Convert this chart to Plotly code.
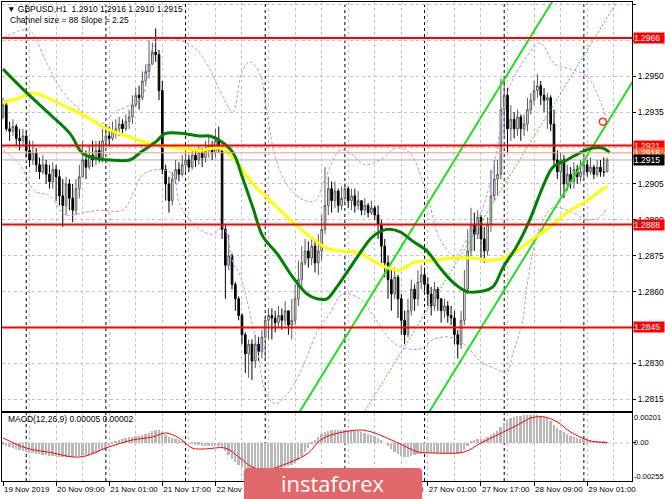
import plotly.graph_objects as go

# ---------------- DATA ----------------
symbol = "GBPUSD,H1"
first_open = 1.2933
closes = [
 1.2938,1.2928,1.2927,1.2929,1.2924,1.2923,1.2925,1.2919,1.2915,1.2918,
 1.2913,1.2910,1.2913,1.2909,1.2906,1.2911,1.2908,1.2900,1.2896,1.2905,
 1.2899,1.2894,1.2903,1.2908,1.2915,1.2912,1.2917,1.2915,1.2919,1.2916,
 1.2923,1.2925,1.2924,1.2927,1.2928,1.2930,1.2928,1.2931,1.2933,1.2938,
 1.2942,1.2941,1.2948,1.2952,1.2955,1.2960,1.2959,1.2944,1.2911,1.2905,
 1.2898,1.2907,1.2911,1.2909,1.2913,1.2915,1.2912,1.2917,1.2915,1.2918,
 1.2916,1.2919,1.2921,1.2918,1.2923,1.2920,1.2886,1.2871,1.2875,1.2863,
 1.2857,1.2850,1.2842,1.2834,1.2838,1.2831,1.2838,1.2835,1.2841,1.2848,
 1.2850,1.2849,1.2847,1.2850,1.2848,1.2852,1.2846,1.2848,1.2857,1.2865,
 1.2872,1.2877,1.2874,1.2879,1.2872,1.2877,1.2886,1.2896,1.2903,1.2898,
 1.2902,1.2896,1.2899,1.2903,1.2898,1.2900,1.2896,1.2898,1.2894,1.2896,
 1.2893,1.2895,1.2892,1.2888,1.2879,1.2872,1.2865,1.2859,1.2866,1.2857,
 1.2848,1.2842,1.2852,1.2861,1.2857,1.2864,1.2867,1.2863,1.2859,1.2854,
 1.2861,1.2857,1.2852,1.2854,1.2850,1.2849,1.2842,1.2838,1.2848,1.2861,
 1.2877,1.2888,1.2884,1.2891,1.2882,1.2877,1.2888,1.2900,1.2907,1.2909,
 1.2936,1.2942,1.2928,1.2932,1.2928,1.2933,1.2928,1.2930,1.2936,1.2940,
 1.2944,1.2946,1.2942,1.2940,1.2941,1.2930,1.2915,1.2910,1.2915,1.2905,
 1.2909,1.2906,1.2911,1.2908,1.2910,1.2913,1.2910,1.2912,1.2909,1.2912,
 1.2910,1.2910,1.2915]
highs = [
 1.2941,1.2940,1.2931,1.2932,1.2930,1.2928,1.2928,1.2927,1.2923,1.2923,
 1.2920,1.2916,1.2917,1.2915,1.2913,1.2914,1.2913,1.2911,1.2907,1.2908,
 1.2907,1.2905,1.2907,1.2913,1.2923,1.2919,1.2921,1.2923,1.2923,1.2923,
 1.2928,1.2930,1.2929,1.2931,1.2932,1.2933,1.2932,1.2934,1.2936,1.2942,
 1.2945,1.2946,1.2952,1.2955,1.2965,1.2964,1.2970,1.2961,1.2948,1.2913,
 1.2908,1.2910,1.2915,1.2914,1.2917,1.2919,1.2917,1.2920,1.2919,1.2921,
 1.2920,1.2923,1.2925,1.2923,1.2928,1.2929,1.2921,1.2888,1.2884,1.2876,
 1.2864,1.2858,1.2851,1.2843,1.2840,1.2840,1.2842,1.2841,1.2844,1.2850,
 1.2853,1.2853,1.2852,1.2854,1.2853,1.2856,1.2852,1.2857,1.2863,1.2873,
 1.2879,1.2882,1.2881,1.2882,1.2882,1.2884,1.2892,1.2912,1.2908,1.2906,
 1.2906,1.2903,1.2904,1.2905,1.2904,1.2903,1.2903,1.2902,1.2898,1.2899,
 1.2897,1.2898,1.2896,1.2896,1.2890,1.2882,1.2875,1.2869,1.2870,1.2867,
 1.2859,1.2852,1.2857,1.2865,1.2863,1.2869,1.2871,1.2870,1.2866,1.2862,
 1.2864,1.2862,1.2857,1.2857,1.2856,1.2854,1.2852,1.2844,1.2852,1.2869,
 1.2886,1.2895,1.2893,1.2894,1.2892,1.2887,1.2891,1.2911,1.2915,1.2915,
 1.2949,1.2948,1.2945,1.2938,1.2935,1.2936,1.2934,1.2934,1.2941,1.2943,
 1.2948,1.2951,1.2948,1.2945,1.2943,1.2942,1.2936,1.2919,1.2918,1.2917,
 1.2913,1.2912,1.2914,1.2913,1.2915,1.2916,1.2915,1.2916,1.2913,1.2915,
 1.2915,1.2916,1.2916]
lows = [
 1.2932,1.2927,1.2923,1.2925,1.2921,1.2919,1.2921,1.2916,1.2912,1.2913,
 1.2910,1.2907,1.2909,1.2905,1.2903,1.2903,1.2898,1.2896,1.2887,1.2892,
 1.2894,1.2889,1.2892,1.2899,1.2908,1.2907,1.2911,1.2912,1.2913,1.2914,
 1.2914,1.2921,1.2921,1.2923,1.2924,1.2925,1.2925,1.2927,1.2928,1.2930,
 1.2937,1.2936,1.2940,1.2946,1.2949,1.2955,1.2956,1.2940,1.2909,1.2898,
 1.2893,1.2896,1.2905,1.2906,1.2908,1.2910,1.2910,1.2911,1.2912,1.2913,
 1.2912,1.2914,1.2916,1.2915,1.2916,1.2918,1.2882,1.2857,1.2869,1.2861,
 1.2852,1.2848,1.2838,1.2826,1.2824,1.2823,1.2828,1.2831,1.2832,1.2831,
 1.2840,1.2840,1.2843,1.2845,1.2844,1.2846,1.2842,1.2840,1.2846,1.2854,
 1.2861,1.2871,1.2870,1.2871,1.2868,1.2867,1.2873,1.2884,1.2892,1.2893,
 1.2895,1.2893,1.2894,1.2896,1.2895,1.2894,1.2893,1.2894,1.2892,1.2892,
 1.2891,1.2892,1.2890,1.2882,1.2872,1.2866,1.2857,1.2852,1.2857,1.2849,
 1.2842,1.2838,1.2841,1.2850,1.2852,1.2854,1.2861,1.2860,1.2854,1.2850,
 1.2852,1.2852,1.2847,1.2849,1.2847,1.2846,1.2838,1.2832,1.2836,1.2846,
 1.2859,1.2875,1.2877,1.2882,1.2874,1.2872,1.2875,1.2885,1.2898,1.2900,
 1.2907,1.2925,1.2918,1.2923,1.2924,1.2925,1.2923,1.2925,1.2927,1.2934,
 1.2938,1.2941,1.2938,1.2935,1.2928,1.2927,1.2912,1.2907,1.2900,1.2899,
 1.2902,1.2903,1.2903,1.2905,1.2906,1.2907,1.2908,1.2909,1.2907,1.2908,
 1.2908,1.2908,1.2910]

# moving averages (bar index, price)
ma_green_bars = [0,7.2,14.2,20.2,23.8,27.1,32.2,38.2,41.3,46.4,48.8,54.8,59.3,62.3,65.4,69.3,72.3,75.3,78.3,82.5,87.3,91.6,94.6,97.6,100.6,103.6,107.5,111.4,115.7,119.6,123.5,127.7,131.6,135.5,139.8,143.7,147.6,150.6,154.8,158.7,162.7,165.7,169.9,173.8,177.7,180.7,182.8]
ma_green = [1.2953,1.2943,1.2934,1.2926,1.2918,1.2916,1.2915,1.2915,1.2918,1.2923,1.2926,1.2926,1.2925,1.2925,1.2923,1.2918,1.2907,1.2895,1.2883,1.2876,1.2866,1.2859,1.2857,1.2857,1.2862,1.2868,1.2876,1.2883,1.2886,1.2885,1.2881,1.2877,1.2870,1.2864,1.2860,1.2860,1.2862,1.2870,1.2879,1.2890,1.2904,1.2912,1.2915,1.2918,1.2920,1.2920,1.2918]
ma_yellow_bars = [0,5.1,9.0,13.3,19.3,25.3,31.3,37.3,41.3,47.3,53.3,59.3,65.4,69.3,75.3,81.3,87.3,92.5,97.6,102.4,107.5,111.4,115.7,119.6,123.5,129.5,135.5,141.6,146.7,150.6,154.8,159.6,164.8,169.9,175.9,179.8,182.2]
ma_yellow = [1.2939,1.2941,1.2943,1.2941,1.2937,1.2933,1.2928,1.2925,1.2923,1.2921,1.2920,1.2919,1.2920,1.2916,1.2905,1.2897,1.2889,1.2883,1.2878,1.2877,1.2876,1.2873,1.2870,1.2869,1.2872,1.2873,1.2874,1.2874,1.2873,1.2874,1.2877,1.2882,1.2887,1.2893,1.2898,1.2902,1.2904]
bb_upper_bars = [0,5.1,8.1,12.7,17.2,23.2,29.2,33.7,38.3,41.9,44.3,47.3,53.3,58.4,62.3,66.0,69.3,72.0,74.4,77.4,79.8,82.5,86.4,91.0,94.0,97.0,101.5,104.5,109.0,113.6,118.7,122.6,126.2,128.6,131.6,136.1,139.8,143.7,146.7,148.8,150.6,152.7,157.2,161.7,166.3,170.8,175.9,179.8,182.2]
bb_upper = [1.2966,1.2969,1.2969,1.2957,1.2945,1.2936,1.2930,1.2935,1.2938,1.2941,1.2959,1.2966,1.2965,1.2961,1.2953,1.2942,1.2935,1.2952,1.2956,1.2951,1.2932,1.2914,1.2903,1.2898,1.2898,1.2907,1.2919,1.2918,1.2913,1.2915,1.2920,1.2918,1.2907,1.2896,1.2882,1.2875,1.2882,1.2892,1.2905,1.2919,1.2936,1.2946,1.2957,1.2964,1.2955,1.2953,1.2950,1.2940,1.2930]
bb_lower_bars = [0,5.1,9.6,14.2,18.7,24.1,29.2,36.1,39.2,42.2,47.3,51.2,53.3,59.3,63.3,66.3,69.3,71.4,74.4,76.5,78.9,81.9,85.5,89.5,94.6,98.5,102.4,107.5,112.0,116.6,119.6,125.6,129.5,134.6,139.8,143.7,149.7,151.8,153.6,156.6,157.8,159.6,161.7,165.7,171.7,175.9,179.8,181.9]
bb_lower = [1.2919,1.2913,1.2902,1.2900,1.2892,1.2893,1.2894,1.2894,1.2901,1.2909,1.2911,1.2909,1.2896,1.2886,1.2884,1.2887,1.2872,1.2867,1.2851,1.2837,1.2819,1.2813,1.2817,1.2826,1.2843,1.2851,1.2859,1.2857,1.2849,1.2840,1.2837,1.2836,1.2840,1.2841,1.2837,1.2831,1.2827,1.2826,1.2834,1.2848,1.2862,1.2876,1.2887,1.2895,1.2893,1.2890,1.2891,1.2895]

# equidistant channel (Channel size = 88, Slope = 2.25)
channel_size = 88
channel_slope = 2.25
channel_bars = [80, 190]
channel_upper = [1.27887, 1.30364]
channel_mid = [1.27447, 1.29924]
channel_lower = [1.27007, 1.29484]

alert_bar = [180.7]
alert_price = [1.2931]

levels_red = [1.2966, 1.2921, 1.2888, 1.2845]
level_ask = 1.2918
level_bid = 1.2915

price_ticks = [1.2980,1.2965,1.2950,1.2935,1.2920,1.2905,1.2890,1.2875,1.2860,1.2845,1.2830,1.2815]
price_ticks_hidden = [1.2965, 1.2920, 1.2845]   # covered by the level boxes in the reference

tick_bars = [0,16,32,48,64,80,96,112,128,144,160,176]
tick_labels = ["19 Nov 2019","20 Nov 09:00","21 Nov 01:00","21 Nov 17:00","22 Nov 09:00",
               "25 Nov 01:00","25 Nov 17:00","26 Nov 09:00","27 Nov 01:00","27 Nov 17:00",
               "28 Nov 09:00","29 Nov 01:00"]
grid_bars = list(range(0, 190, 8))
day_separators = [7, 31, 55, 79, 103, 127, 151, 175]

macd_hist = [
 -13,-20,-27,-34,-40,-47,-54,-60,-67,-67,-74,-74,-81,-81,-87,-87,-87,-94,-94,-94,
 -94,-94,-87,-87,-81,-81,-81,-74,-67,-60,-47,-34,-20,-7,7,20,27,34,40,40,
 47,47,54,60,67,81,87,87,74,54,40,34,27,20,13,7,0,-7,-13,-13,
 -20,-20,-20,-20,-20,-20,-34,-54,-81,-108,-128,-148,-161,-175,-188,-195,-202,-202,-202,-202,
 -195,-188,-181,-175,-168,-161,-155,-148,-134,-114,-87,-60,-34,-7,20,40,60,74,81,87,
 87,87,87,87,87,87,81,81,74,67,60,54,47,34,20,0,-20,-40,-60,-74,
 -87,-94,-94,-87,-81,-74,-74,-67,-67,-67,-67,-67,-67,-67,-67,-67,-74,-74,-67,-47,
 -20,7,20,27,27,27,40,54,67,81,108,134,155,168,175,181,181,188,188,188,
 188,188,181,175,168,148,121,101,87,74,60,47,40,34,27,27,20,20,13,13,
 7,7,5]
macd_signal_bars = [0,7,15,21,25,31,39,45,49,53,57,61,67,71,75,79,86,92,95,98,107,111,119,125,129,139,144,149,155,159,163,167,171,176,179,182]
macd_signal = [34,-34,-67,-94,-87,-34,20,40,67,34,-34,-40,-34,-94,-161,-181,-134,-67,7,47,87,74,0,-60,-67,-60,0,54,121,168,175,141,74,20,7,2]
macd_scale = 1e-5
macd_ticks = [0.00201, 0.0, -0.00255]
macd_ticktext = ["0.00201", "0.00", "-0.00255"]
macd_label_shift = [-4, 0, 4]     # MT4 keeps the extreme labels inside the panel

# ---------------- BUILD ----------------
n = len(closes)
bars = list(range(n))
opens = [first_open] + closes[:-1]
highs = [max(h, o, c) for h, o, c in zip(highs, opens, closes)]
lows = [min(l, o, c) for l, o, c in zip(lows, opens, closes)]

FONT = "Liberation Sans"
GRID = "#C4C4C4"
VIOLET = "#C68CF0"

fig = go.Figure()

for bx, by in [(bb_upper_bars, bb_upper), (bb_lower_bars, bb_lower)]:
    fig.add_trace(go.Scatter(x=bx, y=by, mode="lines", line=dict(color=VIOLET, width=1, dash="3px,2px", shape="spline"),
                             xaxis="x", yaxis="y", hoverinfo="skip"))

fig.add_trace(go.Scatter(x=channel_bars, y=channel_upper, mode="lines", line=dict(color="#22DD22", width=2), xaxis="x", yaxis="y"))
fig.add_trace(go.Scatter(x=channel_bars, y=channel_lower, mode="lines", line=dict(color="#22DD22", width=2), xaxis="x", yaxis="y"))
fig.add_trace(go.Scatter(x=channel_bars, y=channel_mid, mode="lines", line=dict(color="#22DD22", width=1, dash="2px,2px"), xaxis="x", yaxis="y"))

fig.add_trace(go.Candlestick(
    x=bars, open=opens, high=highs, low=lows, close=closes,
    increasing=dict(line=dict(color="#5A5A5A", width=1), fillcolor="#FFFFFF"),
    decreasing=dict(line=dict(color="#000000", width=1), fillcolor="#000000"),
    whiskerwidth=0, xaxis="x", yaxis="y", hoverinfo="skip"))

fig.add_trace(go.Scatter(x=ma_yellow_bars, y=ma_yellow, mode="lines", line=dict(color="#FFFF00", width=3, shape="spline"), xaxis="x", yaxis="y"))
fig.add_trace(go.Scatter(x=ma_green_bars, y=ma_green, mode="lines", line=dict(color="#008000", width=3, shape="spline"), xaxis="x", yaxis="y"))

fig.add_trace(go.Scatter(x=alert_bar, y=alert_price, mode="markers",
                         marker=dict(symbol="circle-open", color="#FF3333", size=7, line=dict(width=1.5)),
                         xaxis="x", yaxis="y"))

fig.add_trace(go.Bar(x=bars, y=[v * macd_scale for v in macd_hist], width=0.55,
                     marker=dict(color="#B8B8B8", line=dict(width=0)), xaxis="x2", yaxis="y2"))
fig.add_trace(go.Scatter(x=macd_signal_bars, y=[v * macd_scale for v in macd_signal], mode="lines",
                         line=dict(color="#FF0000", width=1, shape="spline"), xaxis="x2", yaxis="y2"))

shapes = []
for d in day_separators:
    shapes.append(dict(type="line", xref="x", yref="paper", x0=d, x1=d, y0=0, y1=1,
                       line=dict(color="#000000", width=1, dash="dot"), layer="below"))
for lv in levels_red:
    shapes.append(dict(type="line", xref="paper", yref="y", x0=0, x1=1, y0=lv, y1=lv,
                       line=dict(color="#FF0000", width=2), layer="above"))
shapes.append(dict(type="line", xref="paper", yref="y", x0=0, x1=1, y0=level_ask, y1=level_ask,
                   line=dict(color="#FF9A7A", width=1), layer="above"))
shapes.append(dict(type="line", xref="paper", yref="y", x0=0, x1=1, y0=level_bid, y1=level_bid,
                   line=dict(color="#B0B0B0", width=1), layer="below"))
shapes.append(dict(type="line", xref="x2 domain", yref="y2", x0=0, x1=1, y0=0, y1=0,
                   line=dict(color=GRID, width=1, dash="3px,3px"), layer="below"))

x0, x1, yt, yb = 0.384, 0.667, 0.0271, -0.045
rx, ry = 0.007, 0.009
path = (f"M {x0},{yb} L {x0},{yt-ry} Q {x0},{yt} {x0+rx},{yt} L {x1-rx},{yt} "
        f"Q {x1},{yt} {x1},{yt-ry} L {x1},{yb} Z")
shapes.append(dict(type="path", xref="paper", yref="paper", path=path,
                   fillcolor="#E0676A", line=dict(width=0), layer="above"))

annotations = []
def box(val, bg, fg="#FFFFFF"):
    annotations.append(dict(x=1, xref="paper", y=val, yref="y", xanchor="left", yanchor="middle",
                            xshift=1, text=f"{val:.4f}", showarrow=False, bgcolor=bg, borderpad=0,
                            width=30, height=10, align="left", font=dict(family=FONT, size=8.5, color=fg)))
for lv in levels_red:
    box(lv, "#FF0000")
box(level_ask, "#FF6B3D")
box(level_bid, "#000000")

for v, t, s in zip(macd_ticks, macd_ticktext, macd_label_shift):
    annotations.append(dict(x=1, xref="paper", y=v, yref="y2", xanchor="left", yanchor="middle",
                            xshift=0, yshift=s, text=t, showarrow=False,
                            font=dict(family=FONT, size=7.5, color="#000000")))

o, h, l, c = opens[-1], highs[-1], lows[-1], closes[-1]
annotations.append(dict(x=0.004, xref="paper", y=0.986, yref="paper", xanchor="left", yanchor="middle",
                        text=f"▼ {symbol}  {o:.4f} {h:.4f} {l:.4f} {c:.4f}", showarrow=False,
                        font=dict(family=FONT, size=8.5, color="#000000")))
annotations.append(dict(x=0.009, xref="paper", y=0.962, yref="paper", xanchor="left", yanchor="middle",
                        text=f"Channel size = {channel_size} Slope = {channel_slope:.2f}", showarrow=False,
                        font=dict(family=FONT, size=8.5, color="#000000")))
annotations.append(dict(x=0.006, xref="paper", y=0.129, yref="paper", xanchor="left", yanchor="middle",
                        text=f"MACD(12,26,9) {macd_hist[-1]*macd_scale:.5f} {macd_signal[-1]*macd_scale:.5f}",
                        showarrow=False, font=dict(family=FONT, size=8.5, color="#000000")))
annotations.append(dict(x=0.5255, xref="paper", y=-0.0035, yref="paper", xanchor="center", yanchor="middle",
                        text="instaforex", showarrow=False,
                        font=dict(family="Open Sans", size=22, color="#FFFFFF")))

xcommon = dict(range=[-0.3, 189.5], showgrid=True, gridcolor=GRID, griddash="3px,3px", gridwidth=1,
               tickvals=tick_bars, zeroline=False, showline=True, linecolor="#000000", mirror=True,
               minor=dict(tickvals=grid_bars, showgrid=True, gridcolor=GRID, griddash="3px,3px", ticks=""),
               fixedrange=True, automargin=False)

fig.update_layout(
    width=665, height=499,
    margin=dict(l=2, r=33, t=2, b=18),
    paper_bgcolor="#FFFFFF", plot_bgcolor="#FFFFFF",
    showlegend=False, bargap=0,
    font=dict(family=FONT, size=8.5, color="#000000"),
    xaxis=dict(**xcommon, anchor="y", domain=[0, 1], showticklabels=False, ticks="",
               rangeslider=dict(visible=False)),
    xaxis2=dict(**xcommon, anchor="y2", domain=[0, 1], matches="x", ticktext=tick_labels,
                showticklabels=True, ticks="outside", ticklen=4, tickcolor="#000000", tickangle=0,
                ticklabelposition="outside right", tickfont=dict(family=FONT, size=8, color="#000000")),
    yaxis=dict(domain=[0.1461, 1], range=[1.28101, 1.29810], side="right", tickvals=price_ticks,
               ticktext=["" if v in price_ticks_hidden else f"{v:.4f}" for v in price_ticks],
               showgrid=True, gridcolor=GRID, automargin=False,
               griddash="3px,3px", ticks="outside", ticklen=3, tickcolor="#000000", zeroline=False,
               showline=True, linecolor="#000000", mirror=True, tickfont=dict(family=FONT, size=8.5)),
    yaxis2=dict(domain=[0, 0.142], range=[-0.002555, 0.002015], side="right", tickvals=[0.0],
                showticklabels=False, showgrid=False, ticks="outside", ticklen=3, tickcolor="#000000",
                zeroline=False, showline=True, linecolor="#000000", mirror=True, automargin=False),
    shapes=shapes, annotations=annotations,
)

fig.write_html("out.html", config={"displayModeBar": False},
               post_script="document.body.style.margin='0';document.body.style.overflow='hidden';")
